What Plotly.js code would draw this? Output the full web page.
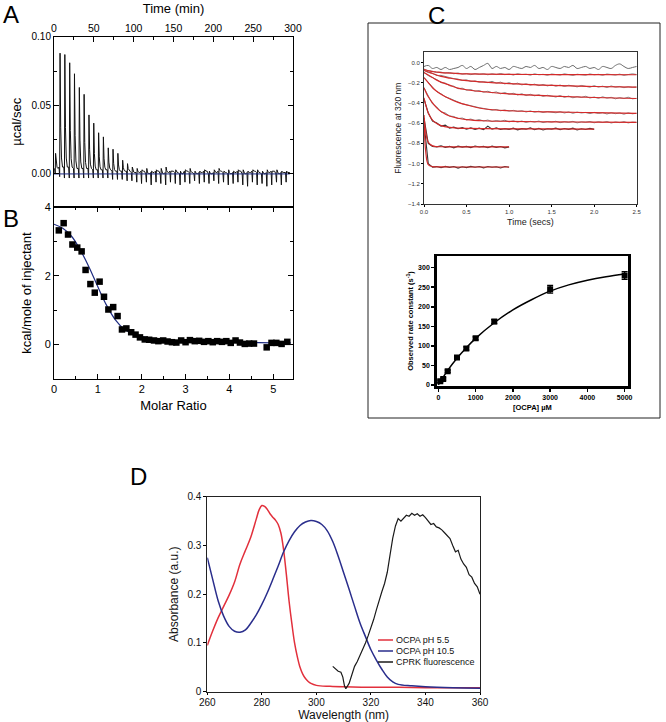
<!DOCTYPE html>
<html><head><meta charset="utf-8">
<script src="https://cdn.plot.ly/plotly-3.0.1.min.js"></script>
<style>html,body{margin:0;padding:0;background:#fff}#chart{width:666px;height:722px}</style>
</head><body><div id="chart"></div>
<script>
// ---------- Panel A: ITC thermogram ----------
const injTimes = [1.5, 7.1, 13.1, 19.2, 25.2, 31.3, 37.3, 43.4, 49.4, 55.5, 61.5, 67.6, 73.6, 79.7, 85.7, 91.8, 97.8, 103.9, 109.9, 116.0, 122.0, 128.1, 134.1, 140.2, 146.2, 152.3, 158.3, 164.4, 170.4, 176.5, 182.5, 188.6, 194.6, 200.7, 206.7, 212.8, 218.8, 224.9, 230.9, 237.0, 243.0, 249.1, 255.1, 261.2, 267.2, 273.3, 279.3, 285.4, 291.4];
const peakHeights = [0.015, 0.088, 0.087, 0.081, 0.073, 0.063, 0.058, 0.043, 0.037, 0.030, 0.027, 0.019, 0.018, 0.015, 0.010, 0.0075, 0.005, 0.004, 0.003, 0.004, 0.002, 0.003, 0.004, 0.005, 0.002, 0.003, 0.002, 0.003, 0.004, 0.002, 0.002, 0.003, 0.002, 0.003, 0.004, 0.002, 0.003, 0.002, 0.003, 0.003, 0.002, 0.003, 0.003, 0.002, 0.003, 0.002, 0.003, 0.002, 0.002];
const dipDepths = [0, -0.002, -0.003, -0.003, -0.003, -0.003, -0.003, -0.003, -0.003, -0.003, -0.003, -0.003, -0.004, -0.004, -0.004, -0.005, -0.005, -0.006, -0.007, -0.006, -0.008, -0.006, -0.007, -0.008, -0.006, -0.007, -0.008, -0.006, -0.007, -0.005, -0.007, -0.006, -0.007, -0.005, -0.007, -0.006, -0.008, -0.007, -0.006, -0.008, -0.009, -0.006, -0.008, -0.007, -0.009, -0.008, -0.006, -0.008, -0.006];
const baseLevel = [0.004, 0.005, 0.005, 0.005, 0.004, 0.004, 0.004, 0.004, 0.003, 0.003, 0.003, 0.003, 0.002, 0.002, 0.002, 0.002, 0.001, 0.001, 0.002, 0.000, 0.001, 0.002, 0.000, 0.001, 0.002, 0.001, 0.000, 0.002, 0.001, 0.000, 0.001, 0.002, 0.000, 0.001, 0.002, 0.001, 0.000, 0.001, 0.002, 0.000, 0.001, 0.002, 0.001, 0.000, 0.001, 0.002, 0.000, 0.001, 0.001];
const baselineTime = [0, 296];
const baselineValue = [0, 0];

// ---------- Panel B: integrated heats ----------
const molarRatio = [0.11, 0.22, 0.32, 0.42, 0.53, 0.63, 0.72, 0.83, 0.93, 1.04, 1.14, 1.24, 1.35, 1.45, 1.55, 1.65, 1.76, 1.86, 1.96, 2.07, 2.17, 2.28, 2.38, 2.49, 2.59, 2.69, 2.79, 2.90, 3.00, 3.10, 3.21, 3.31, 3.42, 3.52, 3.62, 3.72, 3.83, 3.93, 4.03, 4.14, 4.24, 4.35, 4.45, 4.56, 4.85, 4.96, 5.07, 5.19, 5.32];
const heat = [3.32, 3.53, 3.20, 2.91, 2.82, 2.71, 2.17, 1.76, 1.51, 1.83, 1.39, 1.02, 1.09, 0.83, 0.44, 0.47, 0.36, 0.29, 0.21, 0.15, 0.14, 0.12, 0.10, 0.12, 0.09, 0.07, 0.06, 0.12, 0.07, 0.13, 0.10, 0.11, 0.08, 0.10, 0.07, 0.10, 0.08, 0.10, 0.05, 0.12, 0.06, 0.02, 0.03, 0.03, -0.08, 0.05, 0.05, 0.02, 0.08];
const heatFitX = [0, 0.2, 0.4, 0.6, 0.8, 1.0, 1.2, 1.4, 1.6, 1.8, 2.0, 2.2, 2.4, 2.6, 2.8, 3.0, 3.5, 4.0, 4.5, 5.0, 5.4];
const heatFitY = [3.50, 3.38, 3.15, 2.75, 2.25, 1.68, 1.14, 0.72, 0.45, 0.31, 0.23, 0.18, 0.15, 0.13, 0.11, 0.10, 0.08, 0.07, 0.06, 0.05, 0.05];

// ---------- Panel C (top): stopped-flow traces ----------
const fitT = [0, 0.02, 0.05, 0.1, 0.15, 0.2, 0.3, 0.4, 0.5, 0.7, 1.0, 1.5, 2.0, 2.5];
const fit1 = [-0.07, -0.075, -0.08, -0.09, -0.095, -0.10, -0.105, -0.11, -0.113, -0.116, -0.118, -0.12, -0.121, -0.122];
const fit2 = [-0.08, -0.085, -0.095, -0.11, -0.125, -0.138, -0.155, -0.17, -0.18, -0.195, -0.21, -0.228, -0.238, -0.245];
const fit3 = [-0.10, -0.11, -0.125, -0.15, -0.175, -0.195, -0.225, -0.255, -0.27, -0.29, -0.312, -0.333, -0.347, -0.357];
const fit4 = [-0.15, -0.17, -0.20, -0.25, -0.285, -0.315, -0.36, -0.395, -0.42, -0.458, -0.478, -0.49, -0.497, -0.503];
const fit5 = [-0.25, -0.29, -0.34, -0.40, -0.45, -0.485, -0.53, -0.552, -0.565, -0.577, -0.583, -0.588, -0.59, -0.592];
const fit6 = [-0.35, -0.42, -0.50, -0.57, -0.605, -0.625, -0.643, -0.65, -0.653, -0.655, -0.657, -0.658, -0.66];
const fit7 = [-0.52, -0.68, -0.79, -0.825, -0.832, -0.834, -0.835, -0.835, -0.835, -0.835, -0.835];
const fit8 = [-0.55, -0.88, -1.01, -1.03, -1.032, -1.033, -1.034, -1.034, -1.034, -1.034, -1.034];
const dataT = [0, 0.05, 0.1, 0.15, 0.2, 0.25, 0.3, 0.35, 0.4, 0.45, 0.5, 0.55, 0.6, 0.65, 0.7, 0.75, 0.8, 0.85, 0.9, 0.95, 1.0, 1.05, 1.1, 1.15, 1.2, 1.25, 1.3, 1.35, 1.4, 1.45, 1.5, 1.55, 1.6, 1.65, 1.7, 1.75, 1.8, 1.85, 1.9, 1.95, 2.0, 2.05, 2.1, 2.15, 2.2, 2.25, 2.3, 2.35, 2.4, 2.45, 2.5];
const data0 = [-0.04, -0.03, -0.06, -0.05, -0.07, -0.05, -0.07, -0.06, -0.05, -0.03, -0.06, -0.04, -0.07, -0.05, -0.03, -0.01, -0.06, -0.04, -0.06, -0.05, -0.07, -0.04, -0.05, -0.06, -0.04, -0.05, -0.03, -0.06, -0.05, -0.07, -0.04, -0.05, -0.06, -0.04, -0.05, -0.03, -0.06, -0.05, -0.04, -0.06, -0.05, -0.07, -0.04, -0.05, -0.06, -0.03, -0.015, -0.04, -0.06, -0.05, -0.04];
const data1 = [-0.065, -0.085, -0.088, -0.1, -0.096, -0.106, -0.1, -0.112, -0.105, -0.116, -0.11, -0.121, -0.111, -0.118, -0.112, -0.122, -0.113, -0.12, -0.11, -0.121, -0.115, -0.125, -0.112, -0.12, -0.117, -0.126, -0.113, -0.122, -0.118, -0.127, -0.115, -0.12, -0.125, -0.113, -0.12, -0.128, -0.117, -0.121, -0.126, -0.114, -0.122, -0.118, -0.127, -0.115, -0.12, -0.125, -0.116, -0.128, -0.12, -0.113, -0.12];
const data2 = [-0.08, -0.1, -0.108, -0.13, -0.128, -0.142, -0.15, -0.16, -0.165, -0.178, -0.172, -0.19, -0.183, -0.196, -0.19, -0.2, -0.187, -0.205, -0.195, -0.213, -0.2, -0.216, -0.205, -0.222, -0.212, -0.225, -0.215, -0.23, -0.218, -0.232, -0.222, -0.235, -0.224, -0.238, -0.226, -0.232, -0.242, -0.228, -0.236, -0.245, -0.23, -0.244, -0.235, -0.248, -0.233, -0.245, -0.238, -0.25, -0.24, -0.247, -0.243];
const data3 = [-0.1, -0.13, -0.15, -0.17, -0.2, -0.205, -0.23, -0.235, -0.26, -0.255, -0.275, -0.268, -0.285, -0.278, -0.295, -0.285, -0.3, -0.292, -0.31, -0.298, -0.315, -0.305, -0.322, -0.31, -0.328, -0.315, -0.33, -0.32, -0.336, -0.325, -0.333, -0.342, -0.328, -0.345, -0.333, -0.35, -0.338, -0.346, -0.335, -0.352, -0.342, -0.355, -0.34, -0.353, -0.345, -0.36, -0.348, -0.357, -0.344, -0.36, -0.355];
const data4 = [-0.15, -0.2, -0.245, -0.29, -0.31, -0.34, -0.355, -0.375, -0.39, -0.41, -0.418, -0.43, -0.44, -0.448, -0.455, -0.46, -0.472, -0.465, -0.478, -0.47, -0.482, -0.474, -0.485, -0.478, -0.49, -0.48, -0.492, -0.483, -0.495, -0.486, -0.49, -0.498, -0.487, -0.5, -0.49, -0.503, -0.492, -0.5, -0.495, -0.506, -0.494, -0.505, -0.497, -0.51, -0.498, -0.507, -0.5, -0.512, -0.499, -0.508, -0.503];
const data5 = [-0.25, -0.33, -0.41, -0.44, -0.49, -0.5, -0.53, -0.535, -0.555, -0.55, -0.568, -0.56, -0.575, -0.565, -0.58, -0.57, -0.585, -0.575, -0.582, -0.572, -0.588, -0.578, -0.59, -0.58, -0.593, -0.583, -0.59, -0.58, -0.595, -0.585, -0.59, -0.582, -0.596, -0.586, -0.593, -0.583, -0.598, -0.588, -0.592, -0.584, -0.597, -0.587, -0.594, -0.585, -0.599, -0.589, -0.595, -0.586, -0.598, -0.59, -0.593];
const data6 = [-0.36, -0.5, -0.58, -0.6, -0.63, -0.62, -0.65, -0.64, -0.655, -0.645, -0.66, -0.648, -0.662, -0.65, -0.665, -0.63, -0.66, -0.648, -0.663, -0.655, -0.662, -0.65, -0.667, -0.655, -0.66, -0.648, -0.665, -0.653, -0.668, -0.656, -0.66, -0.65, -0.666, -0.654, -0.662, -0.65, -0.668, -0.656, -0.663, -0.652, -0.662];
const data7 = [-0.55, -0.8, -0.83, -0.835, -0.825, -0.84, -0.83, -0.845, -0.828, -0.838, -0.83, -0.842, -0.826, -0.836, -0.83, -0.843, -0.828, -0.84, -0.832, -0.845, -0.835];
const data8 = [-0.6, -1.0, -1.035, -1.03, -1.042, -1.028, -1.038, -1.03, -1.045, -1.032, -1.04, -1.028, -1.037, -1.03, -1.043, -1.029, -1.036, -1.032, -1.044, -1.03, -1.036];

// ---------- Panel C (bottom): observed rate vs [OCPA] ----------
const ocpaConc = [50, 130, 250, 500, 750, 1000, 1500, 3000, 5000];
const kObs = [9, 15, 35, 70, 93, 119, 162, 245, 280];
const kObsErr = [3, 3, 3, 3, 4, 4, 5, 10, 10];
const kFitX = [0, 250, 500, 750, 1000, 1500, 2000, 2500, 3000, 3500, 4000, 4500, 5000];
const kFitY = [0, 37, 68, 95, 119, 159, 192, 218, 240, 256, 268, 277, 284];

// ---------- Panel D: spectra ----------
const redWl = [260, 262, 264, 266, 268, 270, 272, 274, 276, 278, 279, 280, 281, 282, 283, 284, 285, 286, 287, 288, 289, 290, 291, 292, 293, 294, 295, 296, 297, 298, 300, 305, 310, 320, 330, 340, 350, 360];
const redAbs = [0.095, 0.125, 0.152, 0.175, 0.198, 0.225, 0.262, 0.29, 0.318, 0.355, 0.373, 0.382, 0.38, 0.374, 0.365, 0.358, 0.352, 0.343, 0.325, 0.29, 0.24, 0.185, 0.14, 0.10, 0.072, 0.05, 0.036, 0.027, 0.021, 0.017, 0.013, 0.011, 0.010, 0.009, 0.009, 0.008, 0.008, 0.008];
const blueWl = [260, 262, 264, 266, 268, 270, 272, 274, 276, 278, 280, 282, 284, 286, 288, 290, 292, 294, 296, 298, 300, 302, 304, 306, 308, 310, 312, 314, 316, 318, 320, 322, 324, 326, 328, 330, 335, 340, 350, 360];
const blueAbs = [0.275, 0.23, 0.186, 0.155, 0.134, 0.124, 0.122, 0.127, 0.141, 0.158, 0.179, 0.203, 0.23, 0.258, 0.287, 0.31, 0.328, 0.341, 0.348, 0.351, 0.349, 0.343, 0.33, 0.308, 0.278, 0.244, 0.21, 0.175, 0.141, 0.113, 0.086, 0.065, 0.046, 0.03, 0.02, 0.015, 0.012, 0.01, 0.008, 0.007];
const blackWl = [306, 307, 308, 309, 309.7, 310.3, 310.8, 312, 313, 314, 315, 316, 317, 318, 319, 320, 321, 322, 323, 324, 325, 326, 327, 328, 329, 330, 331, 332, 333, 334, 335, 336, 337, 338, 339, 340, 341, 342, 343, 344, 345, 346, 347, 348, 349, 350, 351, 352, 353, 354, 355, 356, 357, 358, 359, 360];
const blackFl = [0.052, 0.046, 0.042, 0.040, 0.030, 0.012, 0.006, 0.017, 0.035, 0.052, 0.062, 0.075, 0.085, 0.10, 0.115, 0.13, 0.148, 0.168, 0.188, 0.205, 0.222, 0.245, 0.28, 0.315, 0.34, 0.355, 0.35, 0.355, 0.362, 0.36, 0.366, 0.362, 0.365, 0.36, 0.363, 0.357, 0.35, 0.343, 0.345, 0.338, 0.336, 0.332, 0.326, 0.32, 0.314, 0.30, 0.287, 0.29, 0.272, 0.262, 0.255, 0.24, 0.235, 0.222, 0.215, 0.20];
const legendNames = ['OCPA pH 5.5', 'OCPA pH 10.5', 'CPRK fluorescence'];
const legendColors = ['#e2303c', '#2a2e8c', '#1a1a1a'];

// ---------- build ----------
const F = 'Liberation Sans, Arial, sans-serif';
const aX = [], aY = [];
const nInj = Math.min(injTimes.length, peakHeights.length, dipDepths.length, baseLevel.length);
for (let i = 0; i < nInj; i++) {
  const t = injTimes[i], b = baseLevel[i], p = peakHeights[i], d = dipDepths[i];
  aX.push(t - 0.8, t, t + 0.5, t + 1.3, t + 2.3, t + 3.6);
  aY.push(b, d, p, b + (p - b) * 0.35, b + (p - b) * 0.08, b);
}
aX.push(296); aY.push(0.001);

const traces = [];
traces.push({x: aX, y: aY, xaxis: 'x', yaxis: 'y', mode: 'lines', line: {color: '#111', width: 1}, showlegend: false, hoverinfo: 'skip'});
traces.push({x: baselineTime, y: baselineValue, xaxis: 'x', yaxis: 'y', mode: 'lines', line: {color: '#1c2a80', width: 1}, showlegend: false});

traces.push({x: heatFitX, y: heatFitY, xaxis: 'x2', yaxis: 'y2', mode: 'lines', line: {color: '#1c2a80', width: 1.2, shape: 'spline'}, showlegend: false});
traces.push({x: molarRatio, y: heat, xaxis: 'x2', yaxis: 'y2', mode: 'markers', marker: {symbol: 'square', size: 6.5, color: '#000'}, showlegend: false});

const ct = (arr) => dataT.slice(0, arr.length);
const ft = (arr) => fitT.slice(0, arr.length);
traces.push({x: ct(data0), y: data0, xaxis: 'x3', yaxis: 'y3', mode: 'lines', line: {color: '#6a6a6a', width: 1, shape: 'spline'}, showlegend: false});
[data1, data2, data3, data4, data5].forEach(d => traces.push({x: ct(d), y: d, xaxis: 'x3', yaxis: 'y3', mode: 'lines', line: {color: '#777', width: 0.9}, showlegend: false}));
[data6, data7, data8].forEach(d => traces.push({x: ct(d), y: d, xaxis: 'x3', yaxis: 'y3', mode: 'lines', line: {color: '#333', width: 1.1}, showlegend: false}));
[fit1, fit2, fit3, fit4, fit5, fit6, fit7, fit8].forEach(f => traces.push({x: ft(f), y: f, xaxis: 'x3', yaxis: 'y3', mode: 'lines', line: {color: '#d42a2a', width: 1.2, shape: 'spline'}, showlegend: false}));

traces.push({x: kFitX, y: kFitY, xaxis: 'x4', yaxis: 'y4', mode: 'lines', line: {color: '#000', width: 1.5, shape: 'spline'}, showlegend: false});
traces.push({x: ocpaConc, y: kObs, xaxis: 'x4', yaxis: 'y4', mode: 'markers', marker: {symbol: 'square', size: 6, color: '#000'},
  error_y: {type: 'data', array: kObsErr, visible: true, color: '#000', thickness: 1.3, width: 3}, showlegend: false});

traces.push({x: redWl, y: redAbs, xaxis: 'x5', yaxis: 'y5', mode: 'lines', line: {color: legendColors[0], width: 1.5, shape: 'spline'}, name: legendNames[0], showlegend: false});
traces.push({x: blueWl, y: blueAbs, xaxis: 'x5', yaxis: 'y5', mode: 'lines', line: {color: legendColors[1], width: 1.5, shape: 'spline'}, name: legendNames[1], showlegend: false});
traces.push({x: blackWl, y: blackFl, xaxis: 'x5', yaxis: 'y5', mode: 'lines', line: {color: legendColors[2], width: 1.2}, name: legendNames[2], showlegend: false});

const W = 666, H = 722;
const px = v => v / W, py = v => 1 - v / H;

const axBase = {showgrid: false, zeroline: false, showline: true, linecolor: '#000', linewidth: 1, tickcolor: '#000', tickfont: {family: F, size: 10, color: '#000'}, title: {font: {family: F, size: 12.5, color: '#000'}}};

const layout = {
  width: W, height: H, margin: {l: 0, r: 0, t: 0, b: 0}, paper_bgcolor: '#fff', plot_bgcolor: '#fff',
  font: {family: F}, showlegend: false,
  xaxis: Object.assign({}, axBase, {domain: [px(54), px(293)], anchor: 'y', side: 'top', range: [0, 300], dtick: 50, ticks: 'inside', ticklen: 5, mirror: true,
    minor: {ticks: 'inside', dtick: 25, ticklen: 3, tickcolor: '#000'}, tickfont: {family: F, size: 10.5, color: '#000'},
    title: {text: 'Time (min)', font: {family: F, size: 13, color: '#000'}, standoff: 4}}),
  yaxis: Object.assign({}, axBase, {domain: [py(207), py(36.7)], anchor: 'x', range: [-0.0241, 0.1], tickvals: [0, 0.05, 0.1], ticktext: ['0.00', '0.05', '0.10'],
    ticks: 'inside', ticklen: 5, mirror: 'ticks', minor: {ticks: 'inside', tickvals: [0.025, 0.075], ticklen: 3, tickcolor: '#000'},
    title: {text: 'µcal/sec', font: {family: F, size: 13, color: '#000'}, standoff: 6}}),
  xaxis2: Object.assign({}, axBase, {domain: [px(54), px(293)], anchor: 'y2', range: [0, 5.45], dtick: 1, ticks: 'inside', ticklen: 5, mirror: 'ticks',
    minor: {ticks: 'inside', dtick: 0.5, ticklen: 3, tickcolor: '#000'}, tickfont: {family: F, size: 11, color: '#000'},
    title: {text: 'Molar Ratio', font: {family: F, size: 13, color: '#000'}, standoff: 6}}),
  yaxis2: Object.assign({}, axBase, {domain: [py(379), py(207)], anchor: 'x2', range: [-1, 4], tickvals: [0, 2, 4], ticks: 'inside', ticklen: 5, mirror: 'ticks',
    minor: {ticks: 'inside', tickvals: [-1, 1, 3], ticklen: 3, tickcolor: '#000'}, tickfont: {family: F, size: 11, color: '#000'},
    title: {text: 'kcal/mole of injectant', font: {family: F, size: 13, color: '#000'}, standoff: 10}}),
  xaxis3: Object.assign({}, axBase, {domain: [px(424), px(636.7)], anchor: 'y3', range: [0, 2.5], dtick: 0.5, tickformat: '.1f', ticks: 'outside', ticklen: 2, mirror: true,
    linecolor: '#333', tickfont: {family: F, size: 6, color: '#333'}, title: {text: 'Time (secs)', font: {family: F, size: 9, color: '#222'}, standoff: 4}}),
  yaxis3: Object.assign({}, axBase, {domain: [py(204), py(52.3)], anchor: 'x3', range: [-1.4, 0.1], tickvals: [-1.4, -1.2, -1.0, -0.8, -0.6, -0.4, -0.2, 0], tickformat: '.1f',
    ticks: 'outside', ticklen: 2, mirror: true, linecolor: '#333', tickfont: {family: F, size: 6, color: '#333'},
    title: {text: 'Fluorescence at 320 nm', font: {family: F, size: 8.5, color: '#222'}, standoff: 4}}),
  xaxis4: Object.assign({}, axBase, {domain: [px(436.7), px(628)], anchor: 'y4', range: [-45, 5090], tickvals: [0, 1000, 2000, 3000, 4000, 5000], ticks: 'outside', ticklen: 3, tickwidth: 1.5,
    linewidth: 2.5, mirror: true, tickfont: {family: F, size: 7, color: '#000', weight: 'bold'},
    title: {text: '[OCPA] µM', font: {family: F, size: 7.5, color: '#000', weight: 'bold'}, standoff: 5}}),
  yaxis4: Object.assign({}, axBase, {domain: [py(386), py(256)], anchor: 'x4', range: [-3, 330], dtick: 50, ticks: 'outside', ticklen: 3, tickwidth: 1.5,
    linewidth: 2.5, mirror: true, tickfont: {family: F, size: 7, color: '#000', weight: 'bold'},
    title: {text: 'Observed rate constant (s<sup>-1</sup>)', font: {family: F, size: 7.5, color: '#000', weight: 'bold'}, standoff: 4}}),
  xaxis5: Object.assign({}, axBase, {domain: [px(207.3), px(480)], anchor: 'y5', range: [260, 360], dtick: 20, ticks: 'outside', ticklen: 2, mirror: true,
    ticklabelstandoff: -1,
    linecolor: '#222', tickfont: {family: F, size: 10, color: '#111'}, title: {text: 'Wavelength (nm)', font: {family: F, size: 12, color: '#111'}, standoff: 0}}),
  yaxis5: Object.assign({}, axBase, {domain: [py(691.7), py(496.7)], anchor: 'x5', range: [0, 0.4], dtick: 0.1, tickformat: '.1~f', ticks: 'outside', ticklen: 3, mirror: true,
    linecolor: '#222', tickfont: {family: F, size: 10, color: '#111'}, title: {text: 'Absorbance (a.u.)', font: {family: F, size: 12, color: '#111'}, standoff: 6}}),
  shapes: [
    {type: 'rect', xref: 'paper', yref: 'paper', x0: px(368), x1: px(660), y0: py(418), y1: py(23), line: {color: '#222', width: 1}}
  ],
  annotations: [
    {text: 'A', xref: 'paper', yref: 'paper', x: px(1), y: py(14), xanchor: 'left', yanchor: 'middle', showarrow: false, font: {family: F, size: 24, color: '#000'}},
    {text: 'B', xref: 'paper', yref: 'paper', x: px(1), y: py(218), xanchor: 'left', yanchor: 'middle', showarrow: false, font: {family: F, size: 24, color: '#000'}},
    {text: 'C', xref: 'paper', yref: 'paper', x: px(426), y: py(15), xanchor: 'left', yanchor: 'middle', showarrow: false, font: {family: F, size: 24, color: '#000'}},
    {text: 'D', xref: 'paper', yref: 'paper', x: px(128), y: py(476), xanchor: 'left', yanchor: 'middle', showarrow: false, font: {family: F, size: 24, color: '#000'}}
  ]
};
const legRows = [640, 651, 662];
legendNames.forEach((n, i) => {
  layout.shapes.push({type: 'line', xref: 'paper', yref: 'paper', x0: px(378), x1: px(393), y0: py(legRows[i]), y1: py(legRows[i]), line: {color: legendColors[i], width: 1.5}});
  layout.annotations.push({text: n, xref: 'paper', yref: 'paper', x: px(394), y: py(legRows[i]), xanchor: 'left', yanchor: 'middle', showarrow: false, font: {family: F, size: 9, color: '#111'}});
});

Plotly.newPlot('chart', traces, layout, {staticPlot: true, displayModeBar: false});
</script></body></html>
